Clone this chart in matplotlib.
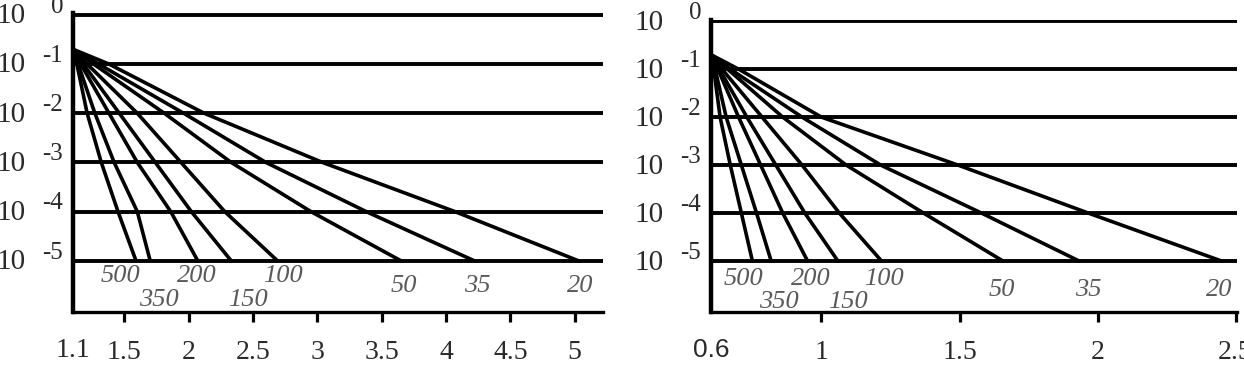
import matplotlib
matplotlib.use("Agg")
import matplotlib.pyplot as plt
from matplotlib.transforms import offset_copy

# curve parameter (label of each curve)
params = ["500", "350", "200", "150", "100", "50", "35", "20"]

# y values at which the x positions were read (start point, then each decade)
y_vals = [0.2, 1e-1, 1e-2, 1e-3, 1e-4, 1e-5]

# left panel: x where each curve reaches the y_vals above
left_500 = [1.1, 1.13, 1.21, 1.32, 1.45, 1.59]
left_350 = [1.1, 1.14, 1.27, 1.42, 1.60, 1.70]
left_200 = [1.1, 1.16, 1.38, 1.60, 1.86, 2.07]
left_150 = [1.1, 1.18, 1.46, 1.74, 2.02, 2.33]
left_100 = [1.1, 1.21, 1.60, 1.94, 2.28, 2.69]
left_50 = [1.1, 1.26, 1.81, 2.33, 2.95, 3.65]
left_35 = [1.1, 1.30, 1.96, 2.60, 3.38, 4.22]
left_20 = [1.1, 1.38, 2.12, 3.04, 4.07, 5.03]

# right panel
right_500 = [0.6, 0.61, 0.633, 0.67, 0.71, 0.75]
right_350 = [0.6, 0.615, 0.655, 0.71, 0.765, 0.818]
right_200 = [0.6, 0.625, 0.70, 0.78, 0.86, 0.95]
right_150 = [0.6, 0.63, 0.73, 0.835, 0.94, 1.06]
right_100 = [0.6, 0.64, 0.785, 0.93, 1.065, 1.218]
right_50 = [0.6, 0.66, 0.86, 1.09, 1.37, 1.658]
right_35 = [0.6, 0.67, 0.93, 1.215, 1.58, 1.934]
right_20 = [0.6, 0.70, 1.0, 1.495, 1.967, 2.45]

# where the curve labels sit
left_lab_x = [1.47, 1.77, 2.06, 2.46, 2.73, 3.67, 4.24, 5.04]
left_lab_y = [10**-5.30, 10**-5.79, 10**-5.30, 10**-5.79, 10**-5.30,
              10**-5.51, 10**-5.51, 10**-5.51]
right_lab_x = [0.716, 0.847, 0.963, 1.095, 1.225, 1.655, 1.968, 2.44]
right_lab_y = [10**-5.38, 10**-5.85, 10**-5.38, 10**-5.85, 10**-5.38,
               10**-5.60, 10**-5.60, 10**-5.60]

decades = [1e0, 1e-1, 1e-2, 1e-3, 1e-4, 1e-5]
exponents = ["0", "-1", "-2", "-3", "-4", "-5"]

left_ticks = [1.5, 2, 2.5, 3, 3.5, 4, 4.5, 5]
left_ticklabels = ["1.5", "2", "2.5", "3", "3.5", "4", "4.5", "5"]
right_ticks = [1, 1.5, 2, 2.5]
right_ticklabels = ["1", "1.5", "2", "2.5"]

SERIF = "Liberation Serif"
TXT = "#2a2a2a"

fig = plt.figure(figsize=(12.44, 3.72), dpi=100)
ax1 = fig.add_axes([73 / 1244, 60 / 372, 530 / 1244, 298.6 / 372])
ax2 = fig.add_axes([711 / 1244, 60 / 372, 526 / 1244, 292.3 / 372])


def style_panel(ax, xlim, ylim, ticks, ticklabels, first, first_font):
    ax.set_yscale("log")
    ax.set_xlim(*xlim)
    ax.set_ylim(*ylim)
    for y in decades:
        ax.axhline(y, color="black", lw=2.8, zorder=1)
    ax.spines["top"].set_visible(False)
    ax.spines["right"].set_visible(False)
    ax.spines["left"].set_linewidth(3.2)
    ax.spines["bottom"].set_linewidth(2.4)
    ax.set_yticks([])
    ax.minorticks_off()
    ax.set_xticks(ticks)
    ax.set_xticklabels(ticklabels, fontfamily=SERIF, fontsize=20, color=TXT)
    ax.set_xticks([first], minor=True)
    ax.set_xticklabels([f"{first:g}"], minor=True, fontfamily=first_font,
                       fontsize=20 if first_font == SERIF else 19, color=TXT)
    ax.tick_params(axis="x", which="major", direction="out", length=7,
                   width=2.3, pad=13)
    ax.tick_params(axis="x", which="minor", length=0, pad=19)
    ax.patch.set_visible(False)

    # y labels written as 10 with a raised exponent
    base_tr = offset_copy(ax.get_yaxis_transform(), fig=fig, x=-34,
                          y=-1, units="points")
    exp_tr = offset_copy(ax.get_yaxis_transform(), fig=fig, x=-7,
                         y=6, units="points")
    for y, e in zip(decades, exponents):
        ax.text(0, y, "10", transform=base_tr, ha="right", va="center",
                fontfamily=SERIF, fontsize=21, color=TXT, clip_on=False)
        ax.text(0, y, e, transform=exp_tr, ha="right", va="center",
                fontfamily=SERIF, fontsize=18, color=TXT, clip_on=False)


style_panel(ax1, (1.1, 5.22), (10**-6.04, 10**0.03), left_ticks,
            left_ticklabels, 1.1, SERIF)
style_panel(ax2, (0.6, 2.505), (10**-6.06, 10**0.03), right_ticks,
            right_ticklabels, 0.6, "Liberation Sans")

left_curves = [left_500, left_350, left_200, left_150, left_100,
               left_50, left_35, left_20]
right_curves = [right_500, right_350, right_200, right_150, right_100,
                right_50, right_35, right_20]

for ax, curves, lx, ly in [(ax1, left_curves, left_lab_x, left_lab_y),
                           (ax2, right_curves, right_lab_x, right_lab_y)]:
    for xs, name, tx, ty in zip(curves, params, lx, ly):
        ax.plot(xs, y_vals, color="black", lw=2.6, solid_capstyle="round",
                solid_joinstyle="round", zorder=3)
        ax.text(tx, ty, name, ha="center", va="center", fontfamily=SERIF,
                style="italic", fontsize=19, color="#5a5a5a", zorder=4)

fig.savefig("out.png", dpi=100)
